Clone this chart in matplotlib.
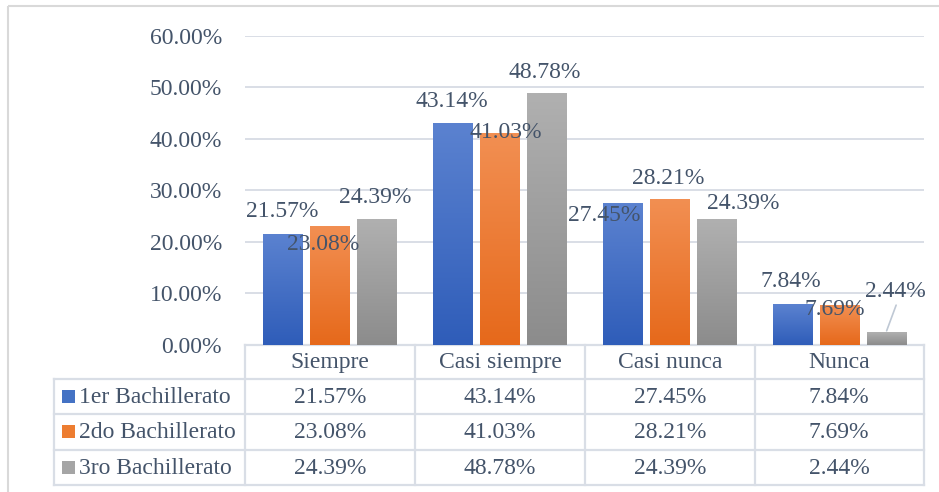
import numpy as np
import matplotlib
matplotlib.use("Agg")
import matplotlib.pyplot as plt
from matplotlib.colors import LinearSegmentedColormap
from matplotlib.patches import Rectangle
from matplotlib.lines import Line2D

# ---------------- data ----------------
categories = ["Siempre", "Casi siempre", "Casi nunca", "Nunca"]
series_names = ["1er Bachillerato", "2do Bachillerato", "3ro Bachillerato"]
primero = [21.57, 43.14, 27.45, 7.84]
segundo = [23.08, 41.03, 28.21, 7.69]
tercero = [24.39, 48.78, 24.39, 2.44]
series_values = [primero, segundo, tercero]
y_ticks = [0, 10, 20, 30, 40, 50, 60]

# ---------------- style / layout ----------------
W, H = 939, 492
TXT = "#44546A"
GRID = "#D9DEE6"
grad = [("#5B82D0", "#2F5DB9"), ("#F28F52", "#E6691B"), ("#B0B0B0", "#8C8C8C")]
solid = ["#4472C4", "#ED7D31", "#A5A5A5"]
FS = 17
plt.rcParams['font.family'] = ['Liberation Serif', 'DejaVu Serif']

# label offsets in pixels (dx, dy of digit baseline from bar top centre)
label_off = [
    [(-1, 16.5), (-7, -24), (-1.5, 16)],
    [(-1, 16), (6.5, -4.5), (-1.5, 15.5)],
    [(-18, -18), (-1.5, 15.5), (26.5, 10)],
    [(-1.5, 17), (-4.5, -10), (9, 35)],
]

fig = plt.figure(figsize=(W / 100, H / 100), dpi=100)

# overlay axes in pixel coordinates (for frame and table)
ov = fig.add_axes([0, 0, 1, 1], zorder=0)
ov.set_xlim(0, W)
ov.set_ylim(H, 0)
ov.axis("off")

ax_left, ax_right, ax_top, ax_bot = 245, 924, 35.7, 344.7
ax = fig.add_axes([ax_left / W, 1 - ax_bot / H, (ax_right - ax_left) / W, (ax_bot - ax_top) / H], zorder=2)
ax.patch.set_alpha(0)
for s in ax.spines.values():
    s.set_visible(False)

x = np.arange(len(categories))
bw = 0.23
step = 0.277
bars_all = []
for i, vals in enumerate(series_values):
    bars = ax.bar(x + (i - 1) * step, vals, width=bw, color=solid[i], zorder=3)
    bars_all.append(bars)
    cmap = LinearSegmentedColormap.from_list("g%d" % i, [grad[i][1], grad[i][0]])
    for b in bars:
        bx, bwid, bh = b.get_x(), b.get_width(), b.get_height()
        im = ax.imshow(np.linspace(0, 1, 100).reshape(-1, 1), cmap=cmap, origin="lower",
                       extent=[bx, bx + bwid, 0, bh], aspect="auto", zorder=4,
                       interpolation="bilinear")
        im.set_clip_path(b)

ax.set_xlim(-0.5, len(categories) - 0.5)
ax.set_ylim(0, 60)
ax.set_yticks(y_ticks)
ax.set_yticklabels(["%.2f%%" % v for v in y_ticks], fontsize=FS, color=TXT)
ax.tick_params(axis="y", length=0, pad=16.5)
ax.tick_params(axis="x", length=0, labelbottom=False)
ax.set_xticks([])
ax.grid(axis="y", color=GRID, linewidth=1.4, zorder=0)
ax.set_axisbelow(True)

# data labels
for i, bars in enumerate(bars_all):
    for j, b in enumerate(bars):
        dx, dy = label_off[j][i]
        cx = b.get_x() + b.get_width() / 2
        ax.annotate("%.2f%%" % series_values[i][j], xy=(cx, b.get_height()),
                    xytext=(dx, dy), textcoords="offset pixels", ha="center",
                    va="baseline", fontsize=FS, color=TXT, zorder=6,
                    annotation_clip=False)

# leader line for the small 3ro/Nunca label
lb = bars_all[2][3]
ax.annotate("", xy=(lb.get_x() + lb.get_width() / 2, lb.get_height()),
            xytext=(10, 27), textcoords="offset pixels",
            arrowprops=dict(arrowstyle="-", color="#BFC8D4", lw=1.2, shrinkA=0, shrinkB=1),
            annotation_clip=False, zorder=6)

# outer frame
ov.add_patch(Rectangle((8, 6), W + 20, H + 20, fill=False, edgecolor="#D9D9D9", lw=1.5))

# data table
col_edges = [245, 415, 585, 754.5, 924]
row_edges = [344.7, 379, 414, 449.5, 485]
leg_left = 54
tlw = 1.6
ov.add_line(Line2D([col_edges[0], col_edges[-1]], [row_edges[0]] * 2, color=GRID, lw=tlw))
for ry in row_edges[1:]:
    ov.add_line(Line2D([leg_left, col_edges[-1]], [ry, ry], color=GRID, lw=tlw))
for cxe in col_edges:
    ov.add_line(Line2D([cxe, cxe], [row_edges[0], row_edges[-1]], color=GRID, lw=tlw))
ov.add_line(Line2D([leg_left, leg_left], [row_edges[1], row_edges[-1]], color=GRID, lw=tlw))

hy = (row_edges[0] + row_edges[1]) / 2
for j, c in enumerate(categories):
    ov.text((col_edges[j] + col_edges[j + 1]) / 2, hy + 1, c, ha="center", va="center",
            fontsize=FS, color=TXT)
for i, name in enumerate(series_names):
    ry = (row_edges[i + 1] + row_edges[i + 2]) / 2
    ov.add_patch(Rectangle((62, ry - 6.5), 13, 13, facecolor=solid[i], edgecolor="none"))
    ov.text(79, ry + 1, name, ha="left", va="center", fontsize=FS, color=TXT)
    for j in range(len(categories)):
        ov.text((col_edges[j] + col_edges[j + 1]) / 2, ry + 1, "%.2f%%" % series_values[i][j],
                ha="center", va="center", fontsize=FS, color=TXT)

fig.savefig("out.png", dpi=100)
